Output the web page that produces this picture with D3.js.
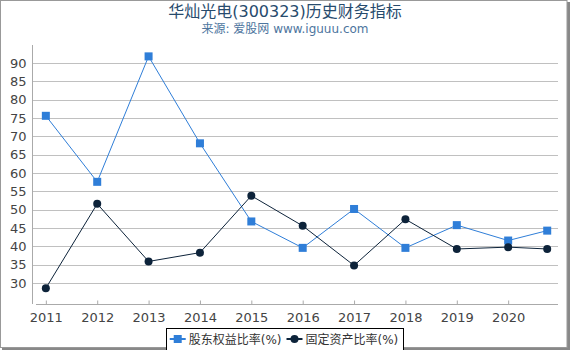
<!DOCTYPE html>
<meta charset="utf-8">
<style>
    body { margin: 0; background: #fff; }
    text { font-family: "DejaVu Sans", "Noto Sans CJK SC", sans-serif; }
</style>
<body>
<script src="https://cdn.jsdelivr.net/npm/d3@7"></script>
<script>
// data
var years = [2011, 2012, 2013, 2014, 2015, 2016, 2017, 2018, 2019, 2020, 2020.76];
var equityRatio = [75.6, 57.6, 91.8, 68.1, 46.8, 39.6, 50.2, 39.6, 45.8, 41.6, 44.3];
var fixedAssetRatio = [28.6, 51.6, 35.9, 38.3, 53.8, 45.6, 34.8, 47.4, 39.3, 39.8, 39.3];
var xTicks = [2011, 2012, 2013, 2014, 2015, 2016, 2017, 2018, 2019, 2020];
var yTicks = [30, 35, 40, 45, 50, 55, 60, 65, 70, 75, 80, 85, 90];
var seriesNames = ["股东权益比率(%)", "固定资产比率(%)"];
var colors = ["#2f7ed8", "#0d233a"];

var W = 570, H = 350;
var plot = {left: 33, right: 558, top: 45, bottom: 304};

var svg = d3.select("body").append("svg")
    .attr("width", W)
    .attr("height", H);

// frame with a little shadow on right/bottom
svg.append("rect").attr("x", 567).attr("y", 2).attr("width", 3).attr("height", 348).attr("fill", "#888");
svg.append("rect").attr("x", 2).attr("y", 347).attr("width", 568).attr("height", 3).attr("fill", "#888");
svg.append("rect").attr("x", 0.5).attr("y", 0.5).attr("width", 566.5).attr("height", 347)
    .attr("fill", "#fff").attr("stroke", "#999");

// titles
svg.append("text")
    .attr("x", 285).attr("y", 17)
    .attr("text-anchor", "middle")
    .style("font-size", "16px")
    .style("fill", "#274b6d")
    .text("华灿光电(300323)历史财务指标");
svg.append("text")
    .attr("x", 285).attr("y", 33)
    .attr("text-anchor", "middle")
    .style("font-size", "12px")
    .style("fill", "#4d759e")
    .text("来源: 爱股网 www.iguuu.com");

// scales
var x = d3.scaleLinear().domain([2010.75, 2020.97]).range([plot.left, plot.right]);
var y = d3.scaleLinear().domain([24.3, 94.9]).range([plot.bottom, plot.top]);

// grid
svg.append("g")
    .selectAll("line")
    .data(yTicks)
    .enter().append("line")
    .attr("x1", plot.left).attr("x2", plot.right)
    .attr("y1", function (d) { return Math.round(y(d)) + 0.5; })
    .attr("y2", function (d) { return Math.round(y(d)) + 0.5; })
    .attr("stroke", "#c0c0c0");

// y axis
var yAxis = svg.append("g")
    .attr("transform", "translate(" + (plot.left - 0.5) + ",0)")
    .call(d3.axisLeft(y).tickValues(yTicks).tickSize(0).tickPadding(6));
yAxis.select(".domain").attr("stroke", "#aaa").attr("d", "M0," + plot.top + "V" + plot.bottom);
yAxis.selectAll("text").style("font-size", "13px").style("fill", "#444")
    .style("font-family", "DejaVu Sans");

// x axis
var xAxis = svg.append("g")
    .attr("transform", "translate(0," + (plot.bottom + 0.5) + ")")
    .call(d3.axisBottom(x).tickValues(xTicks).tickFormat(d3.format("d")).tickSize(-4).tickPadding(8));
xAxis.select(".domain").attr("stroke", "#aaa").attr("d", "M" + (plot.left + 3) + ",0H" + plot.right);
xAxis.selectAll(".tick line").attr("stroke", "#aaa");
xAxis.selectAll("text").style("font-size", "13px").style("fill", "#444")
    .style("font-family", "DejaVu Sans");

// lines
var series = [equityRatio, fixedAssetRatio];
var line = d3.line()
    .x(function (d, i) { return x(years[i]); })
    .y(function (d) { return y(d); });

series.forEach(function (s, k) {
    svg.append("path")
        .datum(s)
        .attr("fill", "none")
        .attr("stroke", colors[k])
        .attr("stroke-width", 1)
        .attr("d", line);
});

// markers
svg.append("g").selectAll("rect")
    .data(equityRatio)
    .enter().append("rect")
    .attr("x", function (d, i) { return x(years[i]) - 4; })
    .attr("y", function (d) { return y(d) - 4; })
    .attr("width", 8).attr("height", 8)
    .attr("fill", colors[0]);

svg.append("g").selectAll("circle")
    .data(fixedAssetRatio)
    .enter().append("circle")
    .attr("cx", function (d, i) { return x(years[i]); })
    .attr("cy", function (d) { return y(d); })
    .attr("r", 4)
    .attr("fill", colors[1]);

// legend
var lg = svg.append("g");
var box = lg.append("rect")
    .attr("x", 167.5).attr("y", 328.5)
    .attr("width", 234).attr("height", 22)
    .attr("fill", "#fff").attr("stroke", "#000");

var items = lg.selectAll(".legend")
    .data(seriesNames)
    .enter().append("g")
    .attr("class", "legend");

items.append("line")
    .attr("x1", 0).attr("x2", 16)
    .attr("stroke", function (d, i) { return colors[i]; })
    .attr("stroke-width", 2);
items.each(function (d, i) {
    var g = d3.select(this);
    if (i === 0) {
        g.append("rect").attr("x", 4).attr("y", -4).attr("width", 8).attr("height", 8).attr("fill", colors[0]);
    } else {
        g.append("circle").attr("cx", 8).attr("cy", 0).attr("r", 4).attr("fill", colors[1]);
    }
});
items.append("text")
    .attr("x", 19).attr("y", 5)
    .style("font-size", "12px")
    .style("fill", "#333")
    .text(function (d) { return d; });

// place items side by side from measured widths, centred on the chart
var widths = [];
items.each(function () { widths.push(this.getBBox().width); });
var gap = 5;
var total = widths[0] + widths[1] + gap + 8;
var x0 = 284 - total / 2;
items.attr("transform", function (d, i) {
    var off = x0 + 4 + (i === 0 ? 0 : widths[0] + gap);
    return "translate(" + off + ",339)";
});
box.attr("x", Math.round(x0) + 0.5).attr("width", Math.round(total));
</script>
</body>
